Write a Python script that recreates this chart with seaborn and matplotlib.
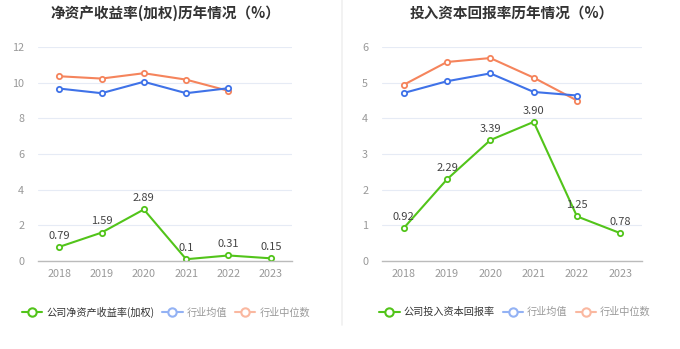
import matplotlib
matplotlib.use("Agg")
import matplotlib.pyplot as plt
import seaborn as sns
import pandas as pd
from matplotlib.lines import Line2D

years = ["2018", "2019", "2020", "2021", "2022", "2023"]
roe_company = [0.79, 1.59, 2.89, 0.10, 0.31, 0.15]
roe_company_labels = ["0.79", "1.59", "2.89", "0.1", "0.31", "0.15"]
roe_avg = [9.67, 9.41, 10.05, 9.41, 9.69]
roe_median = [10.36, 10.23, 10.53, 10.17, 9.54]

roic_company = [0.92, 2.29, 3.39, 3.90, 1.25, 0.78]
roic_company_labels = ["0.92", "2.29", "3.39", "3.90", "1.25", "0.78"]
roic_avg = [4.71, 5.04, 5.26, 4.74, 4.64]
roic_median = [4.94, 5.58, 5.69, 5.14, 4.50]

titles = ["净资产收益率(加权)历年情况（%）", "投入资本回报率历年情况（%）"]
legend_company = ["公司净资产收益率(加权)", "公司投入资本回报率"]
legend_avg = "行业均值"
legend_median = "行业中位数"

GREEN = "#52c41a"
BLUE = "#3f72e8"
ORANGE = "#f5845c"
BLUE_L = "#93b2f4"
ORANGE_L = "#fab8a0"

sns.set_theme(style="white")
plt.rcParams["font.family"] = ["Noto Sans CJK SC", "DejaVu Sans"]

fig = plt.figure(figsize=(6.8, 3.49), dpi=100)
ax1 = fig.add_axes([38 / 680, 1 - 261 / 349, 254 / 680, 214 / 349])
ax2 = fig.add_axes([382 / 680, 1 - 261 / 349, 260 / 680, 214 / 349])

# divider
fig.add_artist(Line2D([341.5 / 680, 341.5 / 680], [1 - 325 / 349, 1.0],
                      transform=fig.transFigure, color="#f0f0f0", lw=1.2))


def draw(ax, comp, labels, avg, med, ymax, yticks, title):
    x = list(range(len(years)))
    df_c = pd.DataFrame({"x": x, "v": comp})
    df_a = pd.DataFrame({"x": x[:len(avg)], "v": avg})
    df_m = pd.DataFrame({"x": x[:len(med)], "v": med})
    mk = dict(marker="o", markersize=3.8, markerfacecolor="white", markeredgewidth=1.3)
    sns.lineplot(data=df_m, x="x", y="v", ax=ax, color=ORANGE, lw=1.5,
                 markeredgecolor=ORANGE, **mk)
    sns.lineplot(data=df_a, x="x", y="v", ax=ax, color=BLUE, lw=1.5,
                 markeredgecolor=BLUE, **mk)
    sns.lineplot(data=df_c, x="x", y="v", ax=ax, color=GREEN, lw=1.5,
                 markeredgecolor=GREEN, **mk)
    for xi, v, t in zip(x, comp, labels):
        ax.annotate(t, (xi, v), xytext=(0, 4.5), textcoords="offset points",
                    ha="center", va="bottom", fontsize=8, color="#444444")
    ax.set_xlim(-0.5, len(years) - 0.5)
    ax.set_ylim(0, ymax)
    ax.set_xticks(x)
    ax.set_xticklabels(years)
    ax.set_yticks(yticks)
    ax.set_yticklabels([str(t) for t in yticks])
    ax.tick_params(axis="both", labelsize=7.8, colors="#999999", length=0, pad=6)
    ax.tick_params(axis="y", pad=10)
    ax.set_xlabel("")
    ax.set_ylabel("")
    for s in ["top", "right", "left"]:
        ax.spines[s].set_visible(False)
    ax.spines["bottom"].set_color("#bbbbbb")
    ax.spines["bottom"].set_linewidth(1)
    ax.grid(axis="y", color="#e6ebf5", lw=0.8)
    ax.set_axisbelow(True)
    ax.set_title(title, fontsize=10.5, fontweight="bold", color="#333333",
                 pad=0, y=1 + 29 / 214)


draw(ax1, roe_company, roe_company_labels, roe_avg, roe_median, 12, [0, 2, 4, 6, 8, 10, 12], titles[0])
draw(ax2, roic_company, roic_company_labels, roic_avg, roic_median, 6, [0, 1, 2, 3, 4, 5, 6], titles[1])


def handles():
    h = lambda c: Line2D([0], [0], color=c, lw=1.5, marker="o", markersize=6,
                         markerfacecolor="white", markeredgecolor=c, markeredgewidth=1.5)
    return [h(GREEN), h(BLUE_L), h(ORANGE_L)]


for cx, lab in [(166 / 680, legend_company[0]), (515 / 680, legend_company[1])]:
    leg = fig.legend(handles(), [lab, legend_avg, legend_median], loc="center",
                     bbox_to_anchor=(cx, 1 - 312 / 349), ncol=3, frameon=False,
                     fontsize=7.3, handlelength=2.0, handletextpad=0.4, columnspacing=0.8)
    cols = ["#333333", "#999999", "#999999"]
    for t, c in zip(leg.get_texts(), cols):
        t.set_color(c)

fig.savefig("out.png", dpi=100)
